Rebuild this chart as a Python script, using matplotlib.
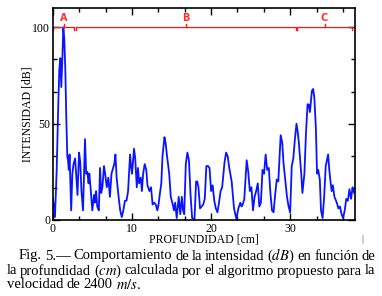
import matplotlib
matplotlib.use('Agg')
import matplotlib.pyplot as plt
from matplotlib.ticker import MultipleLocator

plt.rcParams['font.family'] = ['Liberation Serif', 'DejaVu Serif']
plt.rcParams['mathtext.fontset'] = 'stix'

# perfil de intensidad (profundidad en cm, intensidad en dB)
profundidad = [
    0.0, 0.25, 0.47, 0.67, 0.8, 0.93, 1.05, 1.18, 1.31, 1.43, 1.56, 1.69, 1.81,
    1.9, 2.0, 2.1, 2.3, 2.45, 2.6, 2.8, 3.0, 3.1, 3.3, 3.45, 3.6, 3.8, 4.05,
    4.2, 4.35, 4.5, 4.6, 4.75, 4.97, 5.2, 5.3, 5.45, 5.6, 5.8, 5.95, 6.1, 6.25,
    6.45, 6.6, 6.8, 7.0, 7.2, 7.4, 7.6, 7.75, 7.9, 8.05, 8.3, 8.5, 8.7, 8.9,
    9.1, 9.3, 9.5, 9.75, 9.9, 10.0, 10.25, 10.4, 10.6, 10.75, 10.9, 11.1,
    11.25, 11.4, 11.6, 11.8, 11.95, 12.2, 12.4, 12.6, 12.8, 13.0, 13.2, 13.35,
    13.5, 13.7, 13.85, 14.1, 14.25, 14.4, 14.7, 14.9, 15.15, 15.3, 15.45,
    15.65, 15.9, 16.1, 16.3, 16.45, 16.6, 16.8, 17.0, 17.2, 17.4, 17.6, 17.9,
    18.1, 18.25, 18.4, 18.6, 18.8, 19.0, 19.2, 19.4, 19.6, 19.8, 20.0, 20.2,
    20.4, 20.6, 20.8, 21.0, 21.2, 21.4, 21.7, 21.9, 22.1, 22.3, 22.6, 22.9,
    23.2, 23.45, 23.7, 23.85, 24.0, 24.2, 24.5, 24.7, 24.9, 25.1, 25.3, 25.5,
    25.7, 25.9, 26.1, 26.3, 26.5, 26.7, 26.9, 27.1, 27.3, 27.5, 27.7, 27.9,
    28.1, 28.3, 28.5, 28.8, 29.0, 29.15, 29.4, 29.6, 29.8, 30.0, 30.2, 30.4,
    30.6, 30.8, 30.95, 31.1, 31.4, 31.55, 31.8, 32.0, 32.2, 32.35, 32.5,
    32.75, 32.9, 33.05, 33.25, 33.4, 33.55, 33.75, 33.9, 34.1, 34.3, 34.5,
    34.8, 34.95, 35.1, 35.25, 35.4, 35.6, 35.9, 36.1, 36.3, 36.5, 36.7, 36.9,
    37.1, 37.3, 37.5, 37.7, 37.9, 38.1,
]
intensidad = [
    11, 1.5, 26, 60, 78, 84, 69, 83, 100, 94, 78, 52, 33,
    31, 26, 34, 5, 24, 29, 32, 19, 13, 35, 30, 15, 5, 42,
    24, 25, 19, 24, 17, 5, 13, 9, 15, 7, 5, 27, 14, 17,
    28, 24, 17, 22, 12, 24, 27, 29, 34, 22, 12, 5, 1.5, 5,
    10, 10, 15, 34, 27, 24, 37, 32, 17, 27, 19, 22,
    15, 24, 29, 26, 18, 15, 17, 8, 9, 8, 5, 8,
    13, 19, 33, 43, 40, 34, 24, 12, 8, 5, 9,
    1, 12, 3, 12, 5, 3, 29, 35, 31, 13, 1, 0.5,
    20, 20, 17, 6, 7, 8, 11, 28, 28, 27, 15, 18,
    10, 6, 4, 9, 15, 17, 30, 35, 33, 27, 20, 6,
    0.5, 6, 9, 7, 8, 11, 31, 25, 15, 17, 5, 12,
    15, 19, 7, 9, 26, 24, 34, 26, 27, 14, 5, 4,
    13, 21, 20, 44, 40, 30, 20, 12, 7, 4, 28, 32,
    42, 50, 46, 40, 24, 14, 24, 45, 60, 60, 56,
    67, 68, 64, 48, 24, 26, 21, 5, 1, 12, 28,
    34, 26, 20, 15, 18, 12, 9, 6, 7, 3, 1, 5,
    11, 10, 16, 11, 17, 14,
]

# zonas A, B, C marcadas arriba
zonas = ['A', 'B', 'C']
zona_ini = [0.0, 2.9, 30.9]
zona_fin = [2.7, 30.7, 37.8]
nivel = 100

# pie de figura, linea por linea (las dos primeras justificadas)
pie = [
    r'Fig. 5.— Comportamiento de la intensidad ($dB$) en función de',
    r'la profundidad ($cm$) calculada por el algoritmo propuesto para la',
    r'velocidad de 2400 $m/s$.',
]

fig = plt.figure(figsize=(3.82, 2.96), dpi=100)
ax = fig.add_axes([0.1387, 0.2568, 0.7906, 0.716])

ax.plot(profundidad, intensidad, color='#0a14ff', lw=1.3)

for z, a, b in zip(zonas, zona_ini, zona_fin):
    m = (a + b) / 2
    ax.plot([a, a, b, b], [nivel - 1.2, nivel, nivel, nivel - 1.2], color='#ff1a1a', lw=1.0)
    ax.plot([m, m], [nivel, nivel + 1.5], color='#ff1a1a', lw=1.0)
    ax.text(m, nivel + 2.2, z, color='#ff3030', fontsize=7, ha='center', va='bottom',
            fontweight='bold', family='DejaVu Sans')

ax.set_xlim(0, 38.2)
ax.set_ylim(0, 110)
ax.xaxis.set_major_locator(MultipleLocator(10))
ax.xaxis.set_minor_locator(MultipleLocator(10 / 3))
ax.yaxis.set_major_locator(MultipleLocator(50))
ax.yaxis.set_minor_locator(MultipleLocator(50 / 3))
ax.tick_params(which='both', direction='in', top=True, right=True, labelsize=8.5, pad=2)
ax.tick_params(which='major', length=5, width=1)
ax.tick_params(which='minor', length=3, width=1)
for s in ax.spines.values():
    s.set_linewidth(1.2)

ax.set_xlabel('PROFUNDIDAD [cm]', fontsize=8.5, labelpad=-1)
ax.set_ylabel('INTENSIDAD [dB]', fontsize=8.5)
ax.yaxis.set_label_coords(-0.066, 0.5)

fig.text(362 / 382, 1 - 240 / 296, '|', fontsize=7, ha='center', va='center', color='#444444')

# texto justificado a mano: se miden las palabras y se reparte el espacio
fs = 10.5
W, H = 382, 296
renderer = fig.canvas.get_renderer()
lineas_y = [256, 271, 285]
lineas_x0 = [19, 7, 7]
x_fin = 375
for k, (linea, yy, x0) in enumerate(zip(pie, lineas_y, lineas_x0)):
    palabras = linea.split(' ')
    objs = [fig.text(0, 1 - yy / H, p, fontsize=fs, va='center', ha='left') for p in palabras]
    anchos = [o.get_window_extent(renderer).width for o in objs]
    if k < 2:
        hueco = (x_fin - x0 - sum(anchos)) / (len(palabras) - 1)
    else:
        hueco = 3.3
    x = x0
    for o, w in zip(objs, anchos):
        o.set_x(x / W)
        x += w + hueco

fig.savefig('out.png', dpi=100)
